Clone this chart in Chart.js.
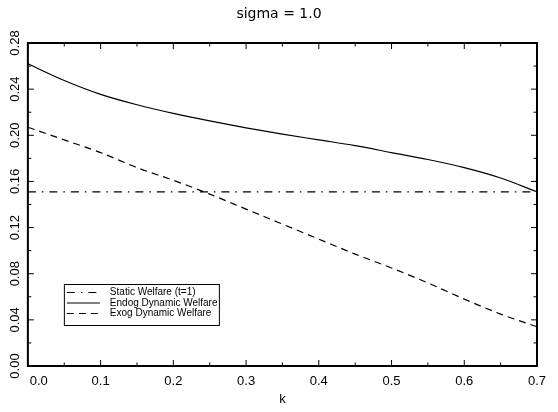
<!DOCTYPE html>
<html><head><meta charset="utf-8">
<script src="https://cdn.jsdelivr.net/npm/chart.js@4.4.1/dist/chart.umd.min.js"></script>
<style>html,body{margin:0;padding:0;background:#fff;}#wrap{width:558px;height:412px;}</style>
</head><body><div id="wrap"><canvas id="c" width="558" height="412"></canvas></div>
<script>
const kValues      = [0.00, 0.05, 0.10, 0.15, 0.20, 0.25, 0.30, 0.35, 0.40, 0.45, 0.50, 0.55, 0.60, 0.65, 0.70];
const staticWelfare= [0.151,0.151,0.151,0.151,0.151,0.151,0.151,0.151,0.151,0.151,0.151,0.151,0.151,0.151,0.151];
const endogWelfare = [0.262,0.2475,0.2355,0.2265,0.219,0.2125,0.2065,0.201,0.196,0.191,0.185,0.179,0.172,0.163,0.151];
const exogWelfare  = [0.207,0.196,0.185,0.172,0.161,0.149,0.136,0.123,0.110,0.097,0.085,0.072,0.058,0.045,0.034];
const xTicks = [0.0, 0.1, 0.2, 0.3, 0.4, 0.5, 0.6, 0.7];
const yTicks = [0.00, 0.04, 0.08, 0.12, 0.16, 0.20, 0.24, 0.28];
const seriesLabels = ['Static Welfare (t=1)', 'Endog Dynamic Welfare', 'Exog Dynamic Welfare'];
const titleText = 'sigma = 1.0';
const xTitleText = 'k';

const FONT = "'Liberation Sans', Arial, Helvetica, sans-serif";
const toXY = arr => kValues.map((k, i) => ({x: k, y: arr[i]}));

const framePlugin = {
  id: 'frame',
  afterDatasetsDraw(chart) {
    const ctx = chart.ctx, a = chart.chartArea;
    const xs = chart.scales.x, ys = chart.scales.y;
    ctx.save();
    ctx.strokeStyle = '#000';
    ctx.lineWidth = 1;
    const major = 6, minor = 3.5;
    ctx.beginPath();
    xTicks.forEach((v, i) => {
      const px = xs.getPixelForValue(v);
      ctx.moveTo(px, a.bottom); ctx.lineTo(px, a.bottom - major);
      ctx.moveTo(px, a.top); ctx.lineTo(px, a.top + major);
      if (i < xTicks.length - 1) {
        const pm = xs.getPixelForValue((v + xTicks[i + 1]) / 2);
        ctx.moveTo(pm, a.bottom); ctx.lineTo(pm, a.bottom - minor);
        ctx.moveTo(pm, a.top); ctx.lineTo(pm, a.top + minor);
      }
    });
    yTicks.forEach((v, i) => {
      const py = ys.getPixelForValue(v);
      ctx.moveTo(a.left, py); ctx.lineTo(a.left + major, py);
      ctx.moveTo(a.right, py); ctx.lineTo(a.right - major, py);
      if (i < yTicks.length - 1) {
        const pm = ys.getPixelForValue((v + yTicks[i + 1]) / 2);
        ctx.moveTo(a.left, pm); ctx.lineTo(a.left + minor, pm);
        ctx.moveTo(a.right, pm); ctx.lineTo(a.right - minor, pm);
      }
    });
    ctx.stroke();
    ctx.lineWidth = 2;
    ctx.strokeRect(a.left, a.top, a.right - a.left, a.bottom - a.top);

    // legend box
    const bx = a.left + 36, by = a.bottom - 82, bw = 155, bh = 41;
    ctx.lineWidth = 1;
    ctx.strokeRect(bx + 0.5, by + 0.5, bw, bh);
    ctx.font = '10px ' + FONT;
    ctx.fillStyle = '#000';
    ctx.textBaseline = 'middle';
    ctx.textAlign = 'left';
    chart.data.datasets.forEach((ds, i) => {
      const ry = by + 8.5 + i * 10.5;
      ctx.save();
      ctx.lineWidth = ds.borderWidth;
      ctx.setLineDash(ds.borderDash || []);
      ctx.beginPath();
      ctx.moveTo(bx + 3, ry); ctx.lineTo(bx + 36, ry);
      ctx.stroke();
      ctx.restore();
      ctx.fillText(ds.label, bx + 46, ry);
    });
    ctx.restore();
  }
};

new Chart(document.getElementById('c'), {
  type: 'line',
  data: {
    datasets: [
      {label: seriesLabels[0], data: toXY(staticWelfare), borderColor: '#000', borderWidth: 1.2, borderDash: [8, 6, 1.5, 6], pointRadius: 0, fill: false, tension: 0},
      {label: seriesLabels[1], data: toXY(endogWelfare), borderColor: '#000', borderWidth: 1.2, pointRadius: 0, fill: false, cubicInterpolationMode: 'monotone'},
      {label: seriesLabels[2], data: toXY(exogWelfare), borderColor: '#000', borderWidth: 1.2, borderDash: [7, 5], pointRadius: 0, fill: false, cubicInterpolationMode: 'monotone'}
    ]
  },
  options: {
    responsive: false,
    animation: false,
    devicePixelRatio: 1,
    layout: {padding: 0},
    plugins: {
      legend: {display: false},
      tooltip: {enabled: false},
      title: {display: true, text: titleText, color: '#000', font: {family: "'DejaVu Sans', sans-serif", size: 14, weight: 'normal'}, padding: {top: 6, bottom: 20.2}}
    },
    scales: {
      x: {
        type: 'linear', min: 0, max: 0.7,
        afterBuildTicks: s => { s.ticks = xTicks.map(v => ({value: v})); },
        afterFit: s => { s.height = 46; },
        grid: {display: false, drawTicks: false},
        border: {display: false},
        ticks: {
          color: '#000', font: {family: FONT, size: 13}, padding: 8, autoSkip: false, maxRotation: 0,
          callback: v => (v === 0 ? '      ' : '') + v.toFixed(1)
        },
        title: {display: true, text: xTitleText, color: '#000', font: {family: FONT, size: 13}, padding: {top: 0, bottom: 5}}
      },
      y: {
        type: 'linear', min: 0, max: 0.28,
        afterBuildTicks: s => { s.ticks = yTicks.map(v => ({value: v})); },
        afterFit: s => { s.width = 26; },
        grid: {display: false, drawTicks: false},
        border: {display: false},
        ticks: {
          color: '#000', font: {family: FONT, size: 13}, padding: 0, autoSkip: false,
          minRotation: 90, maxRotation: 90, crossAlign: 'center',
          callback: v => v.toFixed(2)
        }
      },
      yRight: {
        type: 'linear', position: 'right', min: 0, max: 0.28,
        afterFit: s => { s.width = 21; },
        grid: {display: false, drawTicks: false},
        border: {display: false},
        ticks: {display: false}
      }
    }
  },
  plugins: [framePlugin]
});
</script>
</body></html>
